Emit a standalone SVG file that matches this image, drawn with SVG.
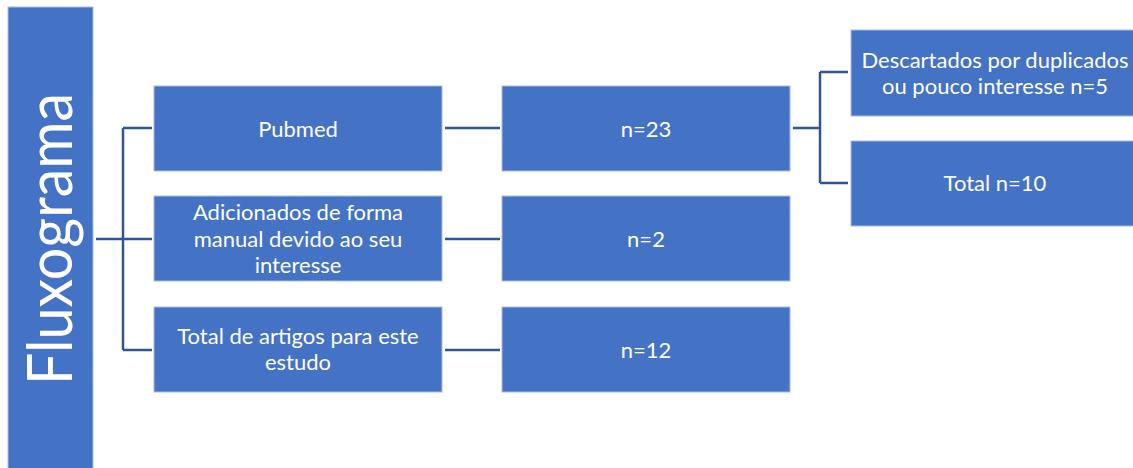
<svg xmlns="http://www.w3.org/2000/svg" width="1133" height="468" viewBox="0 0 1133 468">
<style>
.box{fill:#4472c4;stroke:#a9bde6;stroke-width:1}
.t{font-family:Lato,"Open Sans","Liberation Sans",sans-serif;font-size:22px;fill:#ffffff;text-anchor:middle;dominant-baseline:central}
.c{fill:none;stroke:#2f5597;stroke-width:2.5}
</style>
<rect x="0" y="0" width="1133" height="468" fill="#ffffff"/>
<g id="fluxograma">
<rect class="box" x="8" y="7" width="85" height="463"/>
<text transform="translate(48,239) rotate(-90)" style="font-family:Lato,'Open Sans','Liberation Sans',sans-serif;font-size:61px;fill:#ffffff;text-anchor:middle;dominant-baseline:central" textLength="292" lengthAdjust="spacingAndGlyphs">Fluxograma</text>
</g>
<g id="connectors">
<path class="c" d="M96,239 H123 M123,128 V350 M123,128 H152 M123,239 H152 M123,350 H152"/>
<path class="c" d="M445,128 H500 M445,239 H500 M445,350 H500"/>
<path class="c" d="M793,128 H820 M820,72 V183 M820,72 H848 M820,183 H848"/>
</g>
<g id="pubmed">
<rect class="box" x="154" y="86" width="288" height="85"/>
<text class="t" x="298" y="128">Pubmed</text>
</g>
<g id="adicionados">
<rect class="box" x="154" y="196" width="288" height="85"/>
<text class="t" x="298" y="211">Adicionados de forma</text>
<text class="t" x="298" y="238">manual devido ao seu</text>
<text class="t" x="298" y="264">interesse</text>
</g>
<g id="total-artigos">
<rect class="box" x="154" y="307" width="288" height="85"/>
<text class="t" x="298" y="335">Total de artigos para este</text>
<text class="t" x="298" y="361">estudo</text>
</g>
<g id="n23">
<rect class="box" x="502" y="86" width="288" height="85"/>
<text class="t" x="646" y="128">n=23</text>
</g>
<g id="n2">
<rect class="box" x="502" y="196" width="288" height="85"/>
<text class="t" x="646" y="238">n=2</text>
</g>
<g id="n12">
<rect class="box" x="502" y="307" width="288" height="85"/>
<text class="t" x="646" y="349">n=12</text>
</g>
<g id="descartados">
<rect class="box" x="851" y="30" width="288" height="86"/>
<text class="t" x="995" y="59">Descartados por duplicados</text>
<text class="t" x="995" y="85">ou pouco interesse n=5</text>
</g>
<g id="total-n10">
<rect class="box" x="851" y="141" width="288" height="85"/>
<text class="t" x="995" y="182">Total n=10</text>
</g>
</svg>
